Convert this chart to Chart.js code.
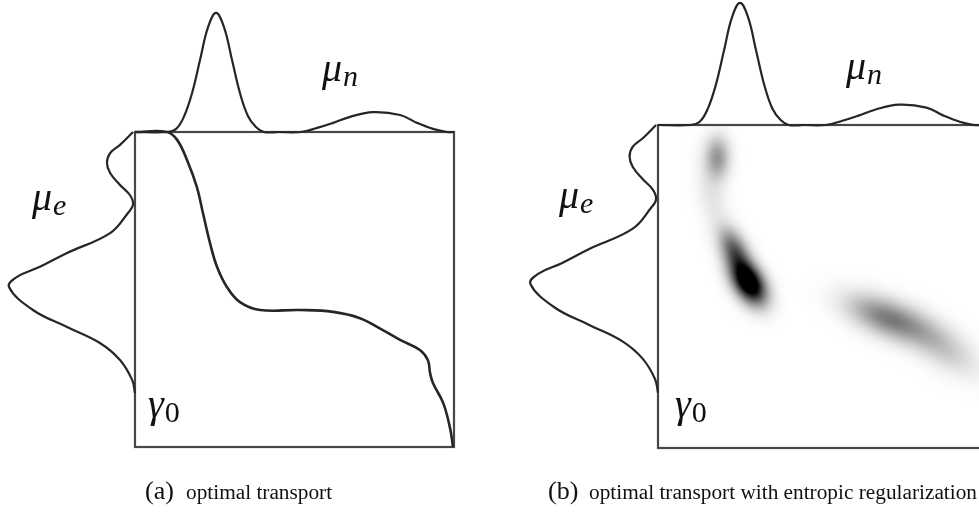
<!DOCTYPE html>
<html>
<head>
<meta charset="utf-8">
<script src="https://cdn.jsdelivr.net/npm/chart.js@4"></script>
<style>
  body { margin: 0; background: #fff; }
  canvas { display: block; }
</style>
</head>
<body>
<canvas id="fig" width="979" height="513"></canvas>
<script>
// marginal mu_n along the top edge: position across the box (0..1) and height (box units)
const muNPos = [0, 0.100, 0.129, 0.154, 0.179, 0.204, 0.229, 0.254, 0.279, 0.304, 0.329, 0.354, 0.379, 0.404, 0.45, 0.52, 0.571, 0.621, 0.674, 0.746, 0.831, 0.884, 0.934, 0.978, 1];
const muNVal = [0, 0, 0.010, 0.050, 0.124, 0.229, 0.333, 0.378, 0.333, 0.229, 0.124, 0.051, 0.016, 0, 0, 0, 0.013, 0.029, 0.048, 0.063, 0.054, 0.029, 0.010, 0, 0];

// marginal mu_e along the left edge: position down the box (0..1) and width out (box units)
const muEPos = [0, 0.041, 0.067, 0.098, 0.130, 0.168, 0.200, 0.230, 0.257, 0.321, 0.384, 0.428, 0.460, 0.492, 0.565, 0.619, 0.670, 0.724, 0.787, 0.829];
const muEVal = [0.006, 0.047, 0.078, 0.088, 0.078, 0.047, 0.016, 0.006, 0.022, 0.078, 0.213, 0.298, 0.370, 0.395, 0.320, 0.213, 0.110, 0.047, 0.009, 0];

// optimal transport map (panel a), box units
const mapU = [0, 0.10, 0.132, 0.163, 0.194, 0.213, 0.235, 0.257, 0.288, 0.329, 0.392, 0.517, 0.621, 0.705, 0.777, 0.831, 0.893, 0.918, 0.925, 0.934, 0.966, 0.987, 0.997];
const mapV = [0, 0, 0.025, 0.089, 0.175, 0.257, 0.352, 0.428, 0.492, 0.540, 0.565, 0.565, 0.571, 0.591, 0.629, 0.660, 0.692, 0.724, 0.765, 0.797, 0.860, 0.937, 1.0];

// entropic plan (panel b): blob centres, peak darkness, spreads (box units), tilt (deg)
const blobU = [0.183, 0.165, 0.235, 0.279, 0.712, 0.873];
const blobV = [0.099, 0.215, 0.387, 0.486, 0.598, 0.681];
const blobPeak = [0.40, 0.10, 0.60, 1.3, 0.50, 0.22];
const blobMajor = [0.045, 0.080, 0.050, 0.050, 0.090, 0.090];
const blobMinor = [0.026, 0.030, 0.027, 0.030, 0.038, 0.040];
const blobAngle = [90, 80, 65, 58, 22, 35];

const W = 979, H = 513;
const boxA = { left: 135, top: 132, right: 454, bottom: 447 };
const boxB = { left: 658, top: 125, right: 981, bottom: 448 };
const ink = '#262626';

function xScale(box) {
  const w = box.right - box.left;
  return { type: 'linear', display: false, min: -box.left / w, max: (W - box.left) / w };
}
function yScale(box) {
  const h = box.bottom - box.top;
  return { type: 'linear', display: false, reverse: true, min: -box.top / h, max: (H - box.top) / h };
}

function curve(us, vs, xId, yId, width) {
  return {
    data: us.map((u, i) => ({ x: u, y: vs[i] })),
    xAxisID: xId, yAxisID: yId,
    showLine: true, borderColor: ink, borderWidth: width, pointRadius: 0, tension: 0.4
  };
}

const datasets = [];
[['xa', 'ya'], ['xb', 'yb']].forEach(([xi, yi]) => {
  datasets.push(curve(muNPos, muNVal.map(v => -v), xi, yi, 2.2));
  datasets.push(curve(muEVal.map(v => -v), muEPos, xi, yi, 2.2));
});
datasets.push(curve(mapU, mapV, 'xa', 'ya', 2.6));

function mathLabel(ctx, base, sub, x, y, subItalic) {
  ctx.font = 'italic 40px "Liberation Serif"';
  ctx.fillText(base, x, y);
  const bw = ctx.measureText(base).width;
  ctx.font = (subItalic ? 'italic ' : '') + '30px "Liberation Serif"';
  ctx.fillText(sub, x + bw + 1, y + 5);
}

const figurePlugin = {
  id: 'figure',
  beforeDatasetsDraw(chart) {
    const ctx = chart.ctx;
    // blurred plan in panel b
    const xs = chart.scales.xb, ys = chart.scales.yb;
    const x0 = Math.round(xs.getPixelForValue(0)), x1 = Math.min(W, Math.round(xs.getPixelForValue(1)));
    const y0 = Math.round(ys.getPixelForValue(0)), y1 = Math.round(ys.getPixelForValue(1));
    const pu = xs.getPixelForValue(1) - xs.getPixelForValue(0);
    const blobs = blobU.map((u, i) => {
      const a = blobAngle[i] * Math.PI / 180;
      return { cx: xs.getPixelForValue(u), cy: ys.getPixelForValue(blobV[i]), c: Math.cos(a), s: Math.sin(a),
        sa: blobMajor[i] * pu, sb: blobMinor[i] * pu, p: blobPeak[i] };
    });
    const img = ctx.createImageData(x1 - x0, y1 - y0);
    for (let py = y0; py < y1; py++) {
      for (let px = x0; px < x1; px++) {
        let d = 0;
        blobs.forEach(b => {
          const dx = px - b.cx, dy = py - b.cy;
          const along = dx * b.c + dy * b.s, across = -dx * b.s + dy * b.c;
          d += b.p * Math.exp(-0.5 * (along * along / (b.sa * b.sa) + across * across / (b.sb * b.sb)));
        });
        const g = Math.round(255 * (1 - Math.min(1, d)));
        const k = ((py - y0) * (x1 - x0) + (px - x0)) * 4;
        img.data[k] = img.data[k + 1] = img.data[k + 2] = g;
        img.data[k + 3] = 255;
      }
    }
    ctx.putImageData(img, x0, y0);

    // the two boxes
    ctx.save();
    ctx.strokeStyle = '#474747';
    ctx.lineWidth = 2.2;
    [['xa', 'ya'], ['xb', 'yb']].forEach(([xi, yi]) => {
      const sx = chart.scales[xi], sy = chart.scales[yi];
      const l = sx.getPixelForValue(0), r = sx.getPixelForValue(1);
      const t = sy.getPixelForValue(0), b = sy.getPixelForValue(1);
      ctx.strokeRect(l, t, r - l, b - t);
    });
    ctx.restore();
  },
  afterDatasetsDraw(chart) {
    const ctx = chart.ctx;
    ctx.save();
    ctx.fillStyle = '#111';
    ctx.textBaseline = 'alphabetic';
    mathLabel(ctx, 'μ', 'n', 322, 81, true);
    mathLabel(ctx, 'μ', 'e', 32, 210, true);
    mathLabel(ctx, 'γ', '0', 148, 417, false);
    mathLabel(ctx, 'μ', 'n', 846, 79, true);
    mathLabel(ctx, 'μ', 'e', 559, 208, true);
    mathLabel(ctx, 'γ', '0', 675, 417, false);

    ctx.font = '26px "Liberation Serif"';
    ctx.fillText('(a)', 145, 499);
    ctx.fillText('(b)', 548, 499);
    ctx.font = '21.3px "Liberation Serif"';
    ctx.fillText('optimal transport', 186, 499);
    ctx.fillText('optimal transport with entropic regularization', 589, 499);
    ctx.restore();
  }
};

new Chart(document.getElementById('fig'), {
  type: 'scatter',
  data: { datasets },
  options: {
    responsive: false,
    animation: false,
    devicePixelRatio: 1,
    layout: { padding: 0 },
    plugins: { legend: { display: false }, tooltip: { enabled: false } },
    scales: { xa: xScale(boxA), ya: yScale(boxA), xb: xScale(boxB), yb: yScale(boxB) }
  },
  plugins: [figurePlugin]
});
</script>
</body>
</html>
